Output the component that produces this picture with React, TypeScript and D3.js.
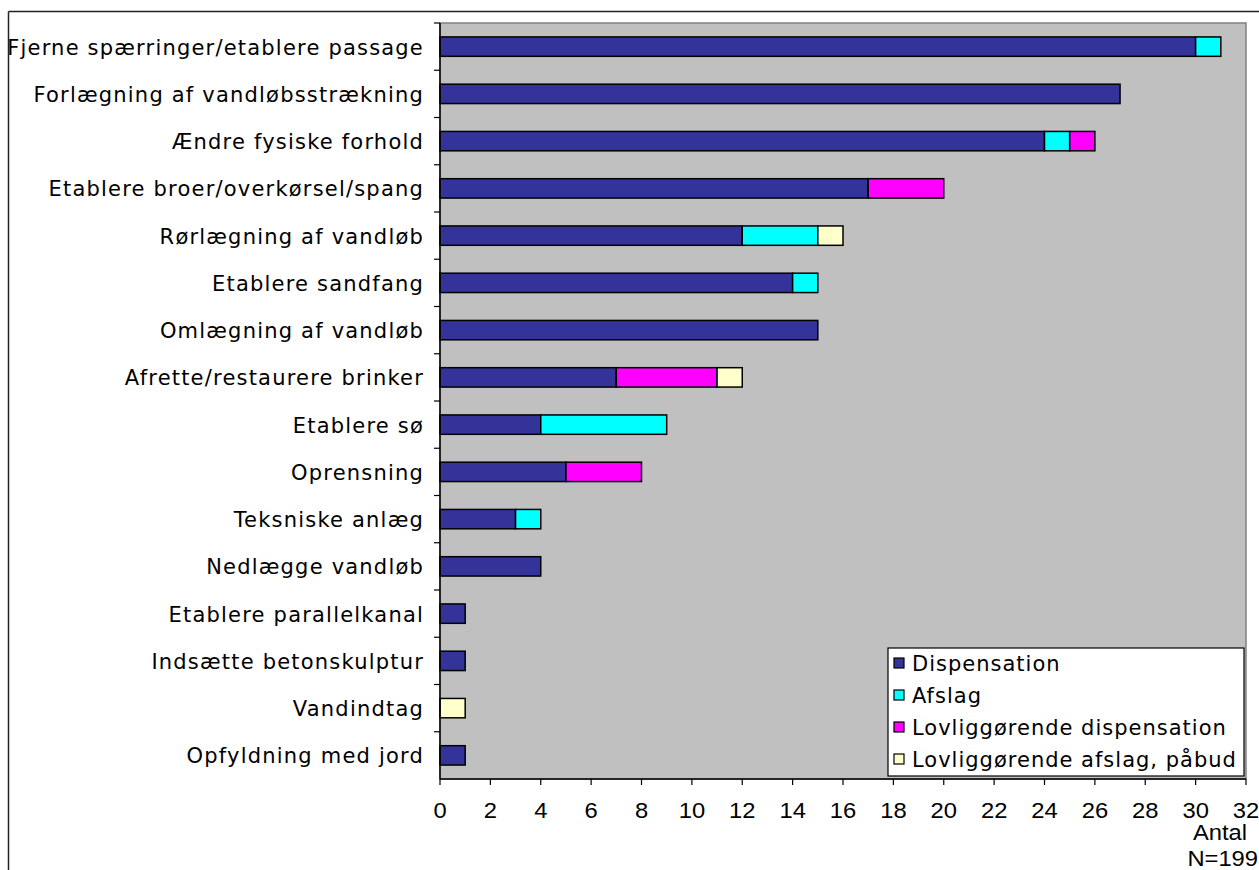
import React, { useEffect, useRef } from 'react';
import * as d3 from 'd3';

const categories = [
  'Fjerne spærringer/etablere passage',
  'Forlægning af vandløbsstrækning',
  'Ændre fysiske forhold',
  'Etablere broer/overkørsel/spang',
  'Rørlægning af vandløb',
  'Etablere sandfang',
  'Omlægning af vandløb',
  'Afrette/restaurere brinker',
  'Etablere sø',
  'Oprensning',
  'Teksniske anlæg',
  'Nedlægge vandløb',
  'Etablere parallelkanal',
  'Indsætte betonskulptur',
  'Vandindtag',
  'Opfyldning med jord',
];

const seriesNames = ['Dispensation', 'Afslag', 'Lovliggørende dispensation', 'Lovliggørende afslag, påbud'];
const seriesColors = ['#333399', '#00ffff', '#ff00ff', '#ffffcc'];

const dispensation = [30, 27, 24, 17, 12, 14, 15, 7, 4, 5, 3, 4, 1, 1, 0, 1];
const afslag = [1, 0, 1, 0, 3, 1, 0, 0, 5, 0, 1, 0, 0, 0, 0, 0];
const lovDispensation = [0, 0, 1, 3, 0, 0, 0, 4, 0, 3, 0, 0, 0, 0, 0, 0];
const lovAfslag = [0, 0, 0, 0, 1, 0, 0, 1, 0, 0, 0, 0, 0, 0, 1, 0];

const xTicks = d3.range(0, 33, 2);

const labelFont = 'DejaVu Sans, Verdana, sans-serif';
const numFont = 'Liberation Sans, Arial, sans-serif';

const App: React.FC = () => {
  const svgRef = useRef<SVGSVGElement>(null);

  useEffect(() => {
    if (!svgRef.current) return;
    const width = 1259;
    const height = 870;
    const plot = { left: 440, right: 1246, top: 23, bottom: 779 };

    const svg = d3.select(svgRef.current);
    svg.selectAll('*').remove();

    // outer frame (only left and top visible)
    svg.append('line').attr('x1', 8.5).attr('y1', 11.5).attr('x2', width).attr('y2', 11.5)
      .attr('stroke', '#222').attr('stroke-width', 1.5);
    svg.append('line').attr('x1', 8.5).attr('y1', 11.5).attr('x2', 8.5).attr('y2', height)
      .attr('stroke', '#222').attr('stroke-width', 1.5);

    const x = d3.scaleLinear().domain([0, 32]).range([plot.left, plot.right]);
    const y = d3.scaleBand().domain(categories).range([plot.top, plot.bottom]).paddingInner(0.59).paddingOuter(0.295);
    const yb = d3.scaleBand().domain(categories).range([plot.top, plot.bottom]);

    // plot area
    svg.append('rect')
      .attr('x', plot.left).attr('y', plot.top)
      .attr('width', plot.right - plot.left).attr('height', plot.bottom - plot.top)
      .attr('fill', '#c0c0c0').attr('stroke', '#808080').attr('stroke-width', 1.5);

    const rows = categories.map((c, i) => ({
      cat: c,
      vals: [dispensation[i], afslag[i], lovDispensation[i], lovAfslag[i]],
    }));

    rows.forEach(r => {
      let acc = 0;
      r.vals.forEach((v, s) => {
        if (v > 0) {
          svg.append('rect')
            .attr('x', x(acc)).attr('y', y(r.cat)!)
            .attr('width', x(acc + v) - x(acc)).attr('height', y.bandwidth())
            .attr('fill', seriesColors[s]).attr('stroke', '#000').attr('stroke-width', 1.5);
        }
        acc += v;
      });
    });

    // y axis
    svg.append('line').attr('x1', plot.left).attr('x2', plot.left).attr('y1', plot.top).attr('y2', plot.bottom)
      .attr('stroke', '#000').attr('stroke-width', 1.5);
    categories.forEach((c, i) => {
      const yy = yb(c)! + yb.bandwidth();
      if (i < categories.length - 1) {
        svg.append('line').attr('x1', plot.left - 6).attr('x2', plot.left).attr('y1', yy).attr('y2', yy)
          .attr('stroke', '#000').attr('stroke-width', 1.2);
      }
      svg.append('text')
        .attr('x', 424).attr('y', yb(c)! + yb.bandwidth() / 2 + 8)
        .attr('text-anchor', 'end')
        .attr('font-family', labelFont).attr('font-size', 21)
        .attr('letter-spacing', 1.2)
        .attr('fill', '#000')
        .text(c);
    });
    svg.append('line').attr('x1', plot.left - 6).attr('x2', plot.left).attr('y1', plot.top).attr('y2', plot.top)
      .attr('stroke', '#000').attr('stroke-width', 1.2);

    // x axis
    svg.append('line').attr('x1', plot.left).attr('x2', plot.right).attr('y1', plot.bottom).attr('y2', plot.bottom)
      .attr('stroke', '#000').attr('stroke-width', 1.5);
    const wide = (tx: number, ty: number) => `translate(${tx},${ty}) scale(1.08,1)`;
    xTicks.forEach(t => {
      svg.append('line').attr('x1', x(t)).attr('x2', x(t)).attr('y1', plot.bottom).attr('y2', plot.bottom + 6)
        .attr('stroke', '#000').attr('stroke-width', 1.2);
      svg.append('text')
        .attr('transform', wide(x(t), 818))
        .attr('text-anchor', 'middle')
        .attr('font-family', numFont).attr('font-size', 22)
        .text(String(t));
    });
    svg.append('text').attr('transform', wide(1247, 840)).attr('text-anchor', 'end')
      .attr('font-family', numFont).attr('font-size', 22).text('Antal');
    svg.append('text').attr('transform', wide(1258, 866)).attr('text-anchor', 'end')
      .attr('font-family', numFont).attr('font-size', 22).text('N=199');

    // legend
    const lg = svg.append('g').attr('transform', 'translate(888,648)');
    lg.append('rect').attr('x', 0).attr('y', 0).attr('width', 356).attr('height', 128)
      .attr('fill', '#fff').attr('stroke', '#000').attr('stroke-width', 1.2);
    seriesNames.forEach((n, i) => {
      const yy = 15 + i * 32;
      lg.append('rect').attr('x', 6).attr('y', yy - 5).attr('width', 10).attr('height', 10)
        .attr('fill', seriesColors[i]).attr('stroke', '#000').attr('stroke-width', 1.2);
      lg.append('text').attr('x', 24).attr('y', yy + 8)
        .attr('font-family', labelFont).attr('font-size', 21)
        .attr('letter-spacing', 1.0)
        .text(n);
    });
  }, []);

  return (
    <svg ref={svgRef} width={1259} height={870}
      style={{ position: 'absolute', left: 0, top: 0, background: '#fff' }} />
  );
};

export default App;
